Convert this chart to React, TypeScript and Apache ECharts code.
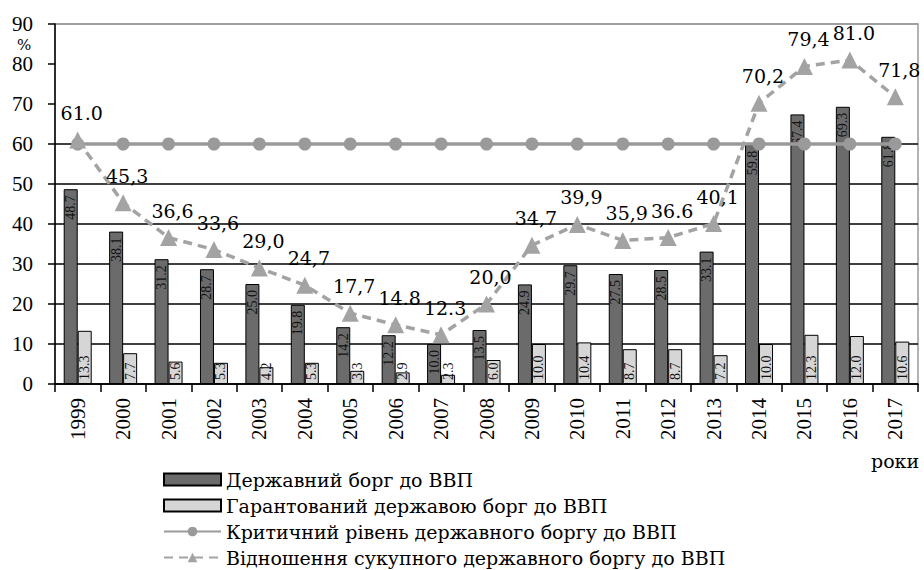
import React, { useEffect, useRef } from "react";
import * as echarts from "echarts";

const years = ["1999", "2000", "2001", "2002", "2003", "2004", "2005", "2006", "2007", "2008", "2009", "2010", "2011", "2012", "2013", "2014", "2015", "2016", "2017"];
const stateDebt = [48.7, 38.1, 31.2, 28.7, 25.0, 19.8, 14.2, 12.2, 10.0, 13.5, 24.9, 29.7, 27.5, 28.5, 33.1, 59.8, 67.4, 69.3, 61.8];
const guaranteedDebt = [13.3, 7.7, 5.6, 5.3, 4.2, 5.3, 3.3, 2.9, 2.3, 6.0, 10.0, 10.4, 8.7, 8.7, 7.2, 10.0, 12.3, 12.0, 10.6];
const criticalLevel = [60, 60, 60, 60, 60, 60, 60, 60, 60, 60, 60, 60, 60, 60, 60, 60, 60, 60, 60];
const totalDebt = [61.0, 45.3, 36.6, 33.6, 29.0, 24.7, 17.7, 14.8, 12.3, 20.0, 34.7, 39.9, 35.9, 36.6, 40.1, 70.2, 79.4, 81.0, 71.8];
const totalDebtLabels = ["61.0", "45,3", "36,6", "33,6", "29,0", "24,7", "17,7", "14.8", "12.3", "20,0", "34,7", "39,9", "35,9", "36.6", "40,1", "70,2", "79,4", "81.0", "71,8"];
const yTicks = [0, 10, 20, 30, 40, 50, 60, 70, 80, 90];

const seriesNames = [
  "Державний борг до ВВП",
  "Гарантований державою борг до ВВП",
  "Критичний рівень державного боргу до ВВП",
  "Відношення сукупного державного боргу до ВВП",
];

const FONT = "Liberation Serif";
const WIDE = "DejaVu Serif";

export default function App() {
  const ref = useRef<HTMLDivElement>(null);

  useEffect(() => {
    document.body.style.margin = "0";
    if (!ref.current) return;
    const chart = echarts.init(ref.current, undefined, { renderer: "svg" });

    const darkLabel = {
      show: true,
      position: "insideTop" as const,
      rotate: 90,
      align: "right",
      verticalAlign: "middle",
      distance: 6,
      color: "#111",
      fontSize: 14,
      fontFamily: FONT,
      formatter: (p: any) => Number(p.value).toFixed(1),
    };
    const lightLabel = {
      show: true,
      position: "insideBottom" as const,
      rotate: 90,
      align: "left",
      verticalAlign: "middle",
      distance: 4,
      color: "#111",
      fontSize: 14,
      fontFamily: FONT,
      formatter: (p: any) => Number(p.value).toFixed(1),
    };

    chart.setOption({
      animation: false,
      backgroundColor: "#fff",
      textStyle: { fontFamily: FONT },
      grid: { left: 55, right: 6, top: 24, bottom: 186, show: true, borderColor: "#9a9a9a", borderWidth: 1.5 },
      legend: {
        orient: "vertical",
        left: 163,
        top: 469,
        itemWidth: 57,
        itemHeight: 12,
        itemGap: 5,
        padding: 0,
        textStyle: { fontSize: 19, lineHeight: 21, fontFamily: WIDE, color: "#000" },
        data: [
          { name: seriesNames[0], icon: "rect" },
          { name: seriesNames[1], icon: "rect" },
          { name: seriesNames[2] },
          { name: seriesNames[3] },
        ],
      },
      xAxis: {
        type: "category",
        data: years,
        axisLine: { lineStyle: { color: "#000", width: 1.5 } },
        axisTick: { show: true, length: 8, lineStyle: { color: "#000", width: 1.5 } },
        axisLabel: { rotate: 90, fontSize: 21, margin: 14, color: "#000", fontFamily: FONT },
      },
      yAxis: {
        type: "value",
        min: yTicks[0],
        max: yTicks[yTicks.length - 1],
        interval: 10,
        axisLine: { show: true, lineStyle: { color: "#000", width: 1.5 } },
        axisTick: { show: true, length: 7, lineStyle: { color: "#000", width: 1.5 } },
        axisLabel: { fontSize: 21, margin: 22, color: "#000", fontFamily: FONT },
        splitLine: {
          show: true,
          lineStyle: {
            width: 1.5,
            color: ["#000", "#000", "#000", "#000", "#000", "#000", "#000", "rgba(0,0,0,0)", "rgba(0,0,0,0)", "#9a9a9a"],
          },
        },
      },
      series: [
        {
          name: seriesNames[0],
          type: "bar",
          data: stateDebt,
          barWidth: 14,
          barGap: "0%",
          itemStyle: { color: "#6b6b6b", borderColor: "#000", borderWidth: 1 },
          label: darkLabel,
          z: 2,
        },
        {
          name: seriesNames[1],
          type: "bar",
          data: guaranteedDebt,
          barWidth: 14,
          barGap: "0%",
          itemStyle: { color: "#d6d6d6", borderColor: "#000", borderWidth: 1 },
          label: lightLabel,
          z: 2,
        },
        {
          name: seriesNames[2],
          type: "line",
          data: criticalLevel,
          symbol: "circle",
          symbolSize: 13,
          itemStyle: { color: "#9a9a9a" },
          lineStyle: { color: "#9a9a9a", width: 3.5 },
          z: 3,
        },
        {
          name: seriesNames[3],
          type: "line",
          data: totalDebt,
          symbol: "triangle",
          symbolSize: [17, 17],
          itemStyle: { color: "#a3a3a3" },
          lineStyle: { color: "#a3a3a3", width: 3.5, type: [9, 6] },
          label: {
            show: true,
            position: "top",
            distance: 9,
            offset: [4, 0],
            fontSize: 19,
            color: "#000",
            fontFamily: WIDE,
            formatter: (p: any) => totalDebtLabels[p.dataIndex],
          },
          z: 4,
        },
      ],
      graphic: [
        { type: "text", left: 17, top: 37, style: { text: "%", fontSize: 15, fontFamily: WIDE, fill: "#000" } },
        { type: "text", left: 871, top: 451, style: { text: "роки", fontSize: 19, fontFamily: WIDE, fill: "#000" } },
      ],
    });

    return () => chart.dispose();
  }, []);

  return <div ref={ref} style={{ width: 924, height: 570 }} />;
}
